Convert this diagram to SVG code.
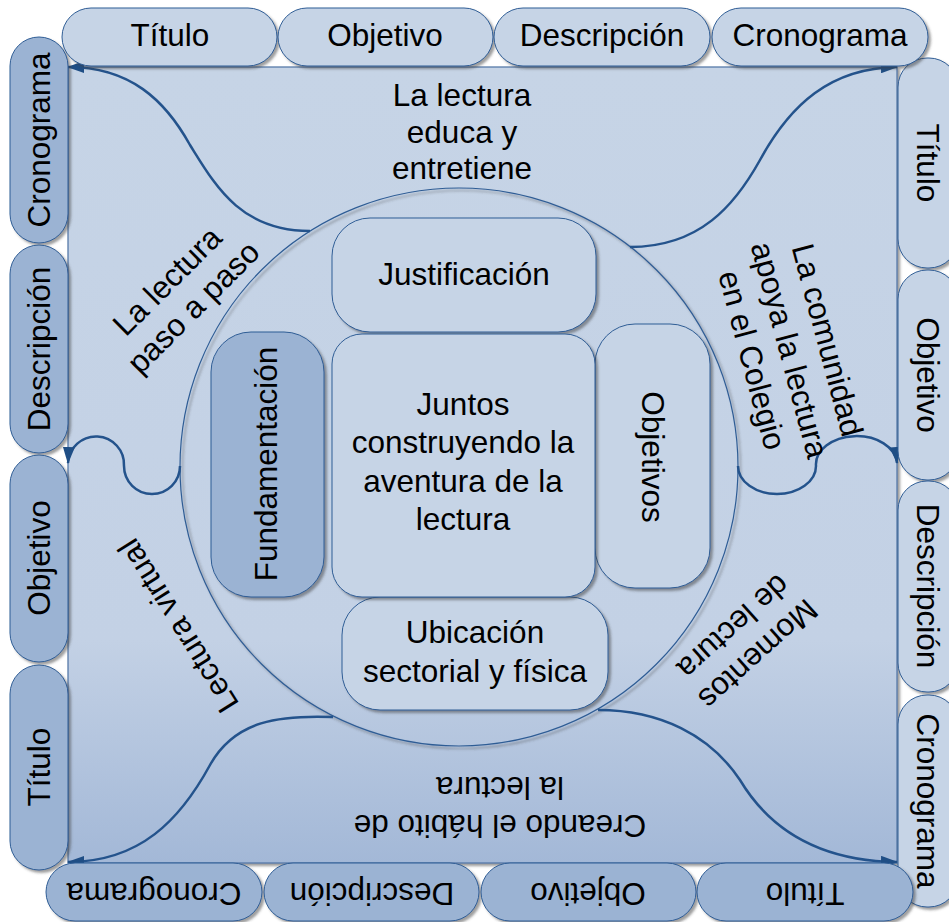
<svg xmlns="http://www.w3.org/2000/svg" width="949" height="922" viewBox="0 0 949 922">
<defs>
<linearGradient id="bg" x1="0" y1="0" x2="0" y2="1">
<stop offset="0" stop-color="#c6d4e6"/>
<stop offset="0.72" stop-color="#c3d1e5"/>
<stop offset="1" stop-color="#a3b8d7"/>
</linearGradient>
<filter id="sh" x="-10%" y="-10%" width="125%" height="125%">
<feDropShadow dx="2.5" dy="2.5" stdDeviation="1" flood-color="#3a3a3a" flood-opacity="0.5"/>
</filter>
<marker id="arr" markerUnits="userSpaceOnUse" markerWidth="17" markerHeight="12" refX="16" refY="6" orient="auto">
<path d="M0,0 L17,6 L0,12 z" fill="#1f4e85"/>
</marker>
</defs>
<style>
.t{font-family:"Liberation Sans",Arial,sans-serif;font-size:31.5px;fill:#000;text-anchor:middle}
.light{fill:#c6d4e6;stroke:#2f5d95;stroke-width:1}
.mid{fill:#9bb3d3;stroke:#2f5d95;stroke-width:1}
.conn{fill:none;stroke:#24538c;stroke-width:2.5}
</style>
<rect x="0" y="0" width="949" height="922" fill="#ffffff"/>

<g id="main-square">
<rect x="68" y="67" width="829" height="796" fill="url(#bg)" stroke="#4d72a3" stroke-width="1.2" filter="url(#sh)"/>
</g>

<g id="center-circle">
<circle cx="459" cy="467" r="279" fill="none" stroke="#2f5d95" stroke-width="1.2" filter="url(#sh)"/>
</g>

<g id="connectors">
<path class="conn" marker-end="url(#arr)" d="M310,231 C240,231 215,185 190,145 C165,100 130,67 68,67"/>
<path class="conn" marker-end="url(#arr)" d="M630,247 C700,247 735,205 760,160 C790,105 830,68 897,67"/>
<path class="conn" marker-end="url(#arr)" d="M180,466 A28,28 0 0 1 124,466 A28,28 0 0 0 68,463"/>
<path class="conn" marker-end="url(#arr)" d="M738,466 A39,28 0 0 0 816,466 A40,28 0 0 1 897,463"/>
<path class="conn" marker-end="url(#arr)" d="M333,717 C280,715 235,720 210,765 C180,820 140,862 68,862"/>
<path class="conn" marker-end="url(#arr)" d="M598,710 C660,710 710,735 740,780 C770,830 820,861 897,862"/>
</g>

<g id="label-top"><text class="t" x="462" y="106">La lectura</text><text class="t" x="462" y="142.5">educa y</text><text class="t" x="462" y="179">entretiene</text></g>
<g id="label-top-left" transform="translate(180,294) rotate(-45)"><text class="t" x="0" y="-7.5">La lectura</text><text class="t" x="0" y="29.5">paso a paso</text></g>
<g id="label-top-right" transform="translate(790,350) rotate(75)"><text class="t" x="0" y="-28">La comunidad</text><text class="t" x="0" y="11">apoya la lectura</text><text class="t" x="0" y="50">en el Colegio</text></g>
<g id="label-bottom-left" transform="translate(178,626) rotate(-122)"><text class="t" x="0" y="11">Lectura virtual</text></g>
<g id="label-bottom-right" transform="translate(746,641) rotate(138)"><text class="t" x="0" y="-7.5">Momentos</text><text class="t" x="0" y="29.5">de lectura</text></g>
<g id="label-bottom"><text class="t" transform="translate(500,815) rotate(180)">Creando el hábito de</text><text class="t" transform="translate(500,777) rotate(180)">la lectura</text></g>

<g id="inner-justificacion"><rect class="light" x="332" y="218" width="264" height="114" rx="38" filter="url(#sh)"/><text class="t" x="464" y="285">Justificación</text></g>
<g id="inner-fundamentacion"><rect class="mid" x="211" y="332" width="113" height="265" rx="40" filter="url(#sh)"/><text class="t" transform="translate(277,464) rotate(-90)">Fundamentación</text></g>
<g id="inner-objetivos"><rect class="light" x="595" y="324" width="115" height="264" rx="40" filter="url(#sh)"/><text class="t" transform="translate(642,457) rotate(90)">Objetivos</text></g>
<g id="inner-ubicacion"><rect class="light" x="342" y="597" width="266" height="113" rx="38" filter="url(#sh)"/><text class="t" x="475" y="643">Ubicación</text><text class="t" x="475" y="682">sectorial y física</text></g>
<g id="inner-center"><rect class="light" x="332" y="334" width="263" height="263" rx="30" filter="url(#sh)"/><text class="t" x="463" y="415">Juntos</text><text class="t" x="463" y="453">construyendo la</text><text class="t" x="463" y="492">aventura de la</text><text class="t" x="463" y="530">lectura</text></g>

<g id="right-titulo"><rect class="light" x="898" y="58" width="60" height="210" rx="29" filter="url(#sh)"/><text class="t" transform="translate(917,163) rotate(90)">Título</text></g>
<g id="right-objetivo"><rect class="light" x="898" y="270" width="60" height="210" rx="29" filter="url(#sh)"/><text class="t" transform="translate(917,375) rotate(90)">Objetivo</text></g>
<g id="right-descripcion"><rect class="light" x="898" y="481" width="60" height="211" rx="29" filter="url(#sh)"/><text class="t" transform="translate(917,586) rotate(90)">Descripción</text></g>
<g id="right-cronograma"><rect class="light" x="898" y="695" width="60" height="212" rx="29" filter="url(#sh)"/><text class="t" transform="translate(917,801) rotate(90)">Cronograma</text></g>

<g id="left-cronograma"><rect class="mid" x="10" y="37" width="58" height="206" rx="29" filter="url(#sh)"/><text class="t" transform="translate(50,140) rotate(-90)">Cronograma</text></g>
<g id="left-descripcion"><rect class="mid" x="10" y="245" width="58" height="208" rx="29" filter="url(#sh)"/><text class="t" transform="translate(50,349) rotate(-90)">Descripción</text></g>
<g id="left-objetivo"><rect class="mid" x="10" y="455" width="58" height="207" rx="29" filter="url(#sh)"/><text class="t" transform="translate(50,558) rotate(-90)">Objetivo</text></g>
<g id="left-titulo"><rect class="mid" x="10" y="665" width="58" height="205" rx="29" filter="url(#sh)"/><text class="t" transform="translate(50,767) rotate(-90)">Título</text></g>

<g id="top-titulo"><rect class="light" x="62" y="8" width="215" height="58" rx="29" filter="url(#sh)"/><text class="t" x="170" y="46">Título</text></g>
<g id="top-objetivo"><rect class="light" x="278" y="8" width="215" height="58" rx="29" filter="url(#sh)"/><text class="t" x="385" y="46">Objetivo</text></g>
<g id="top-descripcion"><rect class="light" x="494" y="8" width="216" height="58" rx="29" filter="url(#sh)"/><text class="t" x="602" y="46">Descripción</text></g>
<g id="top-cronograma"><rect class="light" x="712" y="8" width="216" height="58" rx="29" filter="url(#sh)"/><text class="t" x="820" y="46">Cronograma</text></g>

<g id="bottom-cronograma"><rect class="mid" x="46" y="863" width="216" height="58" rx="29" filter="url(#sh)"/><text class="t" transform="translate(154,883) rotate(180)">Cronograma</text></g>
<g id="bottom-descripcion"><rect class="mid" x="264" y="863" width="215" height="58" rx="29" filter="url(#sh)"/><text class="t" transform="translate(372,883) rotate(180)">Descripción</text></g>
<g id="bottom-objetivo"><rect class="mid" x="481" y="863" width="215" height="58" rx="29" filter="url(#sh)"/><text class="t" transform="translate(588,883) rotate(180)">Objetivo</text></g>
<g id="bottom-titulo"><rect class="mid" x="697" y="863" width="216" height="58" rx="29" filter="url(#sh)"/><text class="t" transform="translate(805,883) rotate(180)">Título</text></g>
</svg>
